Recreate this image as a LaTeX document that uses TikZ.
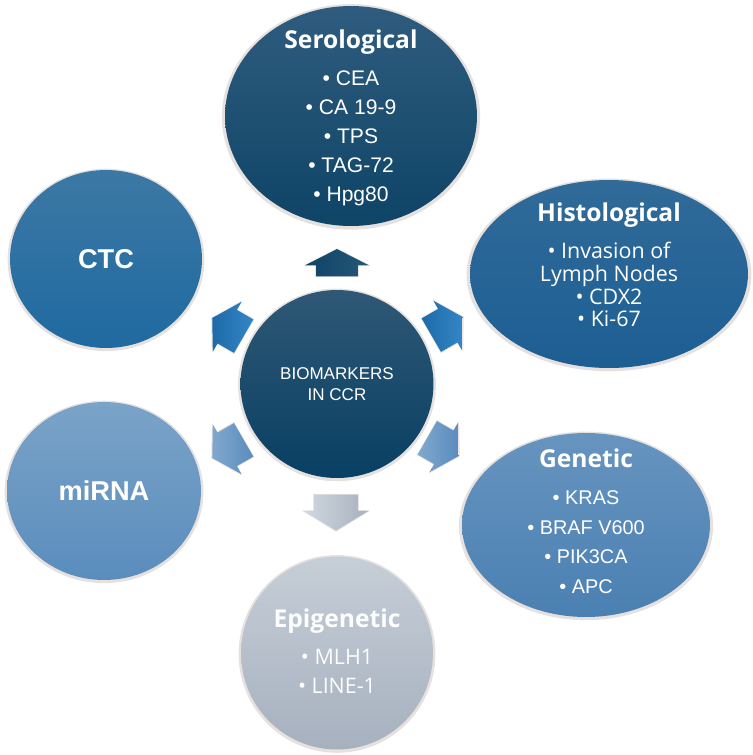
\documentclass[tikz,border=0pt]{standalone}
\usepackage{fontspec}
\setmainfont{Liberation Sans}
\newfontfamily\aptos{Open Sans}
\newcommand\headfont{\aptos\bfseries\fontsize{14}{17}\selectfont}
\usepackage{tikz}
\usetikzlibrary{shapes.geometric, shapes.arrows, shadows}
\definecolor{serotop}{HTML}{2F5C7E}
\definecolor{serobot}{HTML}{0E4466}
\definecolor{hubtop}{HTML}{2F5875}
\definecolor{hubbot}{HTML}{083F63}
\definecolor{histotop}{HTML}{306B99}
\definecolor{histobot}{HTML}{1D5E93}
\definecolor{ctctop}{HTML}{3C78A5}
\definecolor{ctcbot}{HTML}{1F6AA0}
\definecolor{genetop}{HTML}{6794BF}
\definecolor{genebot}{HTML}{4A80B2}
\definecolor{mirnatop}{HTML}{7AA3C8}
\definecolor{mirnabot}{HTML}{5A8DBD}
\definecolor{epitop}{HTML}{C6CED7}
\definecolor{epibot}{HTML}{A6B1BF}
\definecolor{arrowbright}{HTML}{3486C6}
\definecolor{arrowbrightdark}{HTML}{1E6AA8}
\definecolor{arrowpale}{HTML}{80A8CE}
\definecolor{arrowpaledark}{HTML}{5A8CBD}
\definecolor{glowgray}{HTML}{B8A8A4}
\tikzset{
bubble/.style={
ellipse,
inner sep=0pt,
general shadow={fill=glowgray, opacity=0.35, shadow scale=1.025, shadow yshift=-0.5pt}
},
bigname/.style={
text=white,
font=\bfseries\fontsize{15.5}{18}\selectfont
},
listtext/.style={
text=white,
align=center,
inner sep=0pt
},
blockarrow/.style={
single arrow,
minimum width=0pt,
minimum height=0pt,
general shadow={fill=glowgray, opacity=0.3, shadow scale=1.05}
},
diagarrow/.style={
blockarrow,
inner xsep=0.24cm,
inner ysep=0.38cm,
single arrow head extend=0.19cm,
single arrow tip angle=118
}
}
\begin{document}
\begin{tikzpicture}[x=0.02cm, y=-0.02cm]
\useasboundingbox (0,0) rectangle (752,755);

% satellites
\node[bubble, minimum width=5.04cm, minimum height=4.40cm, top color=serotop, bottom color=serobot] (sero) at (351,116) {};
\node[bubble, minimum width=5.56cm, minimum height=3.76cm, top color=histotop, bottom color=histobot] (histo) at (609,274) {};
\node[bubble, minimum width=4.96cm, minimum height=3.68cm, top color=genetop, bottom color=genebot] (gene) at (586,525) {};
\node[bubble, minimum width=3.84cm, minimum height=3.86cm, top color=epitop, bottom color=epibot] (epi) at (337,653) {};
\node[bubble, bigname, minimum width=3.88cm, minimum height=3.56cm, top color=mirnatop, bottom color=mirnabot] (mirna) at (104,491) {miRNA};
\node[bubble, bigname, minimum width=3.84cm, minimum height=3.56cm, top color=ctctop, bottom color=ctcbot] (ctc) at (106,259) {CTC};

% centre
\node[bubble, minimum width=3.86cm, minimum height=3.76cm, top color=hubtop, bottom color=hubbot,
  text=white, align=center, font=\fontsize{9.7}{12}\selectfont] (hub) at (337,384) {BIOMARKERS\\IN CCR};

% texts of the lists
\node[listtext, font=\fontsize{12}{16.5}\selectfont] (serolist) at (351,118)
  {{\headfont Serological}\\[4.5pt]• CEA\\• CA 19-9\\• TPS\\• TAG-72\\• Hpg80};
\node[listtext, font=\aptos\fontsize{12.2}{13}\selectfont] (histolist) at (609,265)
  {{\headfont Histological}\\[8pt]• Invasion of\\Lymph Nodes\\• CDX2\\• Ki-67};
\node[listtext, font=\fontsize{11.3}{16.8}\selectfont] (genelist) at (586,521)
  {{\headfont Genetic}\\[4.3pt]• KRAS\\• BRAF V600\\• PIK3CA\\• APC};
\node[listtext, text=white!96!epitop, font=\aptos\fontsize{12.2}{16.5}\selectfont] (epilist) at (337,651)
  {{\headfont Epigenetic}\\[4.5pt]• MLH1\\• LINE-1};

% arrows out of the centre
\node[blockarrow, rotate=90, inner xsep=0.16cm, inner ysep=0.41cm,
  single arrow head extend=0.22cm, single arrow tip angle=126,
  left color=serobot, right color=serotop!75!serobot] (toSero) at (337,268) {};
\node[diagarrow, rotate=30, left color=arrowbrightdark, right color=arrowbright] (toHisto) at (442,329) {};
\node[diagarrow, rotate=-30, left color=arrowpale, right color=arrowpaledark] (toGene) at (438,444) {};
\node[blockarrow, rotate=-90, inner xsep=0.22cm, inner ysep=0.43cm,
  single arrow head extend=0.22cm, single arrow tip angle=117,
  left color=epitop!80!white, right color=epibot] (toEpi) at (336,506) {};
\node[diagarrow, rotate=-150, left color=arrowpale, right color=arrowpaledark] (toMirna) at (233,446) {};
\node[diagarrow, rotate=150, left color=arrowbrightdark, right color=arrowbright] (toCtc) at (233,330) {};

\end{tikzpicture}
\end{document}
